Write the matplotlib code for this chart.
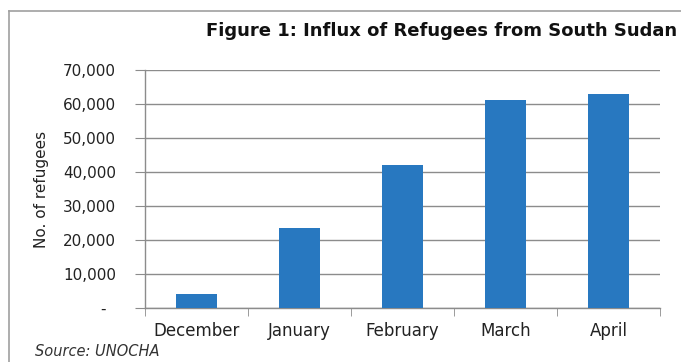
import matplotlib
matplotlib.use("Agg")
import matplotlib.pyplot as plt
from matplotlib.lines import Line2D
from matplotlib.ticker import FuncFormatter

months = ["December", "January", "February", "March", "April"]
refugees = [4000, 23500, 42000, 61200, 62800]
y_ticks = [0, 10000, 20000, 30000, 40000, 50000, 60000, 70000]

BAR = "#2878c0"
GRID = "#8c8c8c"

fig = plt.figure(figsize=(6.81, 3.62), dpi=100)
fig.patch.set_facecolor("white")

# outer chart border (left and top only visible in the crop)
fig.add_artist(Line2D([9 / 681, 9 / 681], [0, 1 - 11 / 362], color="#a0a0a0", lw=1.2))
fig.add_artist(Line2D([9 / 681, 1], [1 - 11 / 362, 1 - 11 / 362], color="#a0a0a0", lw=1.2))

ax = fig.add_axes([145 / 681, 1 - 308 / 362, 515 / 681, 238 / 362])
x = list(range(len(months)))
ax.bar(x, refugees, width=0.39, color=BAR, zorder=3)

ax.set_xlim(-0.5, len(months) - 0.5)
ax.set_ylim(0, 70000)
ax.set_yticks(y_ticks)
ax.yaxis.set_major_formatter(FuncFormatter(lambda v, p: "-  " if v == 0 else f"{int(v):,}"))
ax.grid(axis="y", color=GRID, lw=1.0, zorder=0)

ax.set_xticks(x)
ax.set_xticklabels(months)
ax.set_xticks([i + 0.5 for i in range(-1, len(months))], minor=True)
ax.tick_params(axis="x", which="major", length=0, pad=10, labelsize=12, colors="#222222")
ax.tick_params(axis="x", which="minor", length=6, color=GRID, direction="out")
ax.tick_params(axis="y", length=7, color=GRID, pad=14, labelsize=11, labelcolor="#222222")

for side in ["top", "right"]:
    ax.spines[side].set_visible(False)
for side in ["left", "bottom"]:
    ax.spines[side].set_color(GRID)
    ax.spines[side].set_linewidth(1.0)

ax.set_ylabel("No. of refugees", fontsize=11, color="#222222", labelpad=10)

fig.text(677 / 681, 1 - 31 / 362, "Figure 1: Influx of Refugees from South Sudan",
         fontsize=13, fontweight="bold", ha="right", va="center", color="#111111")
fig.text(35 / 681, 1 - 352 / 362, "Source: UNOCHA", fontsize=10.5, style="italic",
         ha="left", va="center", color="#333333")

fig.savefig("out.png", dpi=100)
